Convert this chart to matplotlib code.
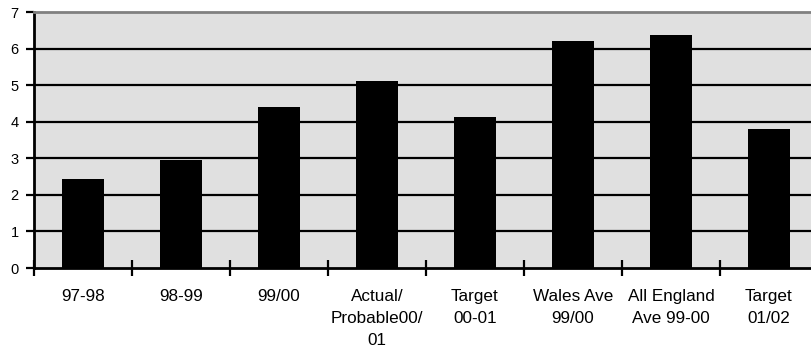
import matplotlib
matplotlib.use("Agg")
import matplotlib.pyplot as plt
import numpy as np

categories = [
    "97-98",
    "98-99",
    "99/00",
    "Actual/\nProbable00/\n01",
    "Target\n00-01",
    "Wales Ave\n99/00",
    "All England\nAve 99-00",
    "Target\n01/02",
]
values = [2.43, 2.96, 4.40, 5.11, 4.13, 6.21, 6.37, 3.80]
y_ticks = [0, 1, 2, 3, 4, 5, 6, 7]

plt.rcParams["font.family"] = ["Liberation Sans", "DejaVu Sans"]

W, H = 812, 350
fig = plt.figure(figsize=(W / 100, H / 100), dpi=100)
left, right, top, bottom = 34, 818, 12, 268
ax = fig.add_axes([left / W, (H - bottom) / H, (right - left) / W, (bottom - top) / H])

ax.set_facecolor("#e0e0e0")
x = np.arange(len(categories)) + 0.5
ax.bar(x, values, width=0.43, color="black", zorder=3)

ax.set_xlim(0, len(categories))
ax.set_ylim(0, 7)

# horizontal gridlines
ax.set_yticks(y_ticks)
ax.set_yticklabels([str(t) for t in y_ticks], fontsize=10.5)
for t in y_ticks[1:-1]:
    ax.axhline(t, color="black", linewidth=1.6, zorder=1)

# category ticks sit between bars; labels sit under the bars
ax.set_xticks(np.arange(len(categories) + 1))
ax.set_xticklabels([])
ax.set_xticks(x, minor=True)
ax.set_xticklabels(categories, minor=True, fontsize=12.3, linespacing=1.6)
ax.tick_params(axis="x", which="minor", length=0, pad=15)
ax.tick_params(axis="x", which="major", direction="inout", length=12, width=1.6, color="black")
ax.tick_params(axis="y", direction="out", length=6, width=1.6, pad=5, color="black")

for side in ("left", "bottom"):
    ax.spines[side].set_color("black")
    ax.spines[side].set_linewidth(2)
ax.spines["top"].set_color("#808080")
ax.spines["top"].set_linewidth(2)
ax.spines["right"].set_visible(False)

fig.savefig("out.png", dpi=100)
